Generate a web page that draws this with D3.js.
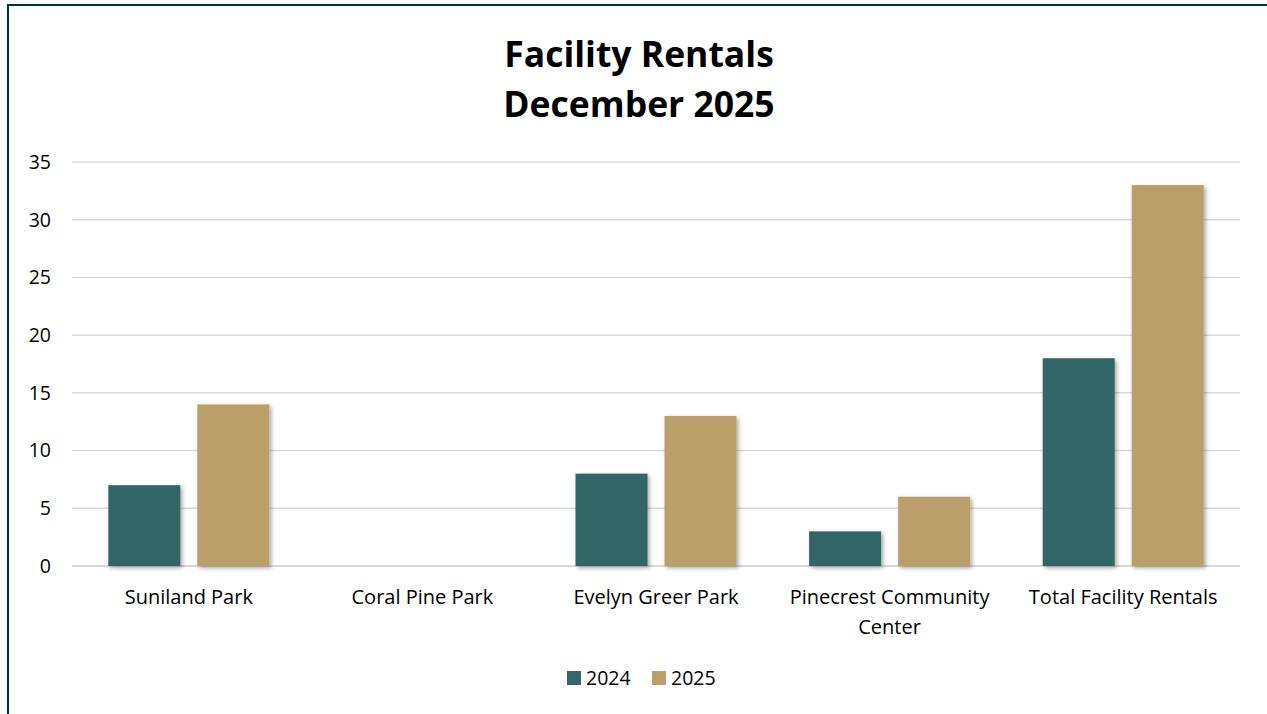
<!DOCTYPE html>
<html>
<head>
<meta charset="utf-8">
<script src="https://cdn.jsdelivr.net/npm/d3@7"></script>
<style>
  html, body { margin: 0; padding: 0; background: #fff; }
  svg { display: block; }
  text { font-family: "Open Sans", Lato, sans-serif; }
</style>
</head>
<body>
<svg id="chart" width="1267" height="714"></svg>
<script>
const categories = [["Suniland Park"], ["Coral Pine Park"], ["Evelyn Greer Park"], ["Pinecrest Community", "Center"], ["Total Facility Rentals"]];
const seriesNames = ["2024", "2025"];
const values2024 = [7, 0, 8, 3, 18];
const values2025 = [14, 0, 13, 6, 33];
const yTicks = [0, 5, 10, 15, 20, 25, 30, 35];
const colors = ["#336666", "#BB9F69"];
const titleLines = ["Facility Rentals", "December 2025"];

(function () {
const svg = d3.select("#chart");
const W = 1267, H = 714;

// border
svg.append("path")
  .attr("d", `M8,${H} L8,5 L${W},5`)
  .attr("fill", "none").attr("stroke", "#003333").attr("stroke-width", 2);

const defs = svg.append("defs");
const f = defs.append("filter").attr("id", "shadow").attr("x", "-20%").attr("y", "-20%").attr("width", "140%").attr("height", "140%");
f.append("feDropShadow").attr("dx", 2).attr("dy", 2).attr("stdDeviation", 2).attr("flood-color", "#000").attr("flood-opacity", 0.35);

const pLeft = 72, pRight = 1240, pTop = 162, pBottom = 566;
const fs = 19.5;

const x0 = d3.scaleBand().domain(d3.range(categories.length)).range([pLeft, pRight]).paddingInner(0).paddingOuter(0);
const x1 = d3.scaleBand().domain(seriesNames).range([0, x0.bandwidth()]).paddingInner(0.191).paddingOuter(0.408);
const y = d3.scaleLinear().domain([0, 35]).range([pBottom, pTop]);

// gridlines
svg.append("g").selectAll("line").data(yTicks).join("line")
  .attr("x1", pLeft).attr("x2", pRight)
  .attr("y1", d => y(d)).attr("y2", d => y(d))
  .attr("stroke", "#d9d9d9").attr("stroke-width", d => d === 0 ? 2 : 1.5);

// y tick labels
svg.append("g").selectAll("text").data(yTicks).join("text")
  .attr("x", 51).attr("y", d => y(d)).attr("dy", "0.35em")
  .attr("text-anchor", "end").attr("font-size", fs).attr("fill", "#000")
  .text(d => d);

// bars
const data = categories.map((c, i) => ({ i, vals: [values2024[i], values2025[i]] }));
const groups = svg.append("g").selectAll("g").data(data).join("g")
  .attr("transform", d => `translate(${x0(d.i)},0)`);
groups.selectAll("rect").data(d => d.vals.map((v, k) => ({ v, k })).filter(e => e.v > 0)).join("rect")
  .attr("x", e => x1(seriesNames[e.k]))
  .attr("width", x1.bandwidth())
  .attr("y", e => y(e.v))
  .attr("height", e => y(0) - y(e.v))
  .attr("fill", e => colors[e.k])
  .attr("filter", "url(#shadow)");

// category labels
const cl = svg.append("g").selectAll("text").data(categories).join("text")
  .attr("x", (d, i) => x0(i) + x0.bandwidth() / 2)
  .attr("y", 604)
  .attr("text-anchor", "middle").attr("font-size", 20).attr("fill", "#000");
cl.selectAll("tspan").data(d => d).join("tspan")
  .attr("x", function () { return d3.select(this.parentNode).attr("x"); })
  .attr("dy", (d, k) => k === 0 ? 0 : 30)
  .text(d => d);

// title
svg.append("g").selectAll("text").data(titleLines).join("text")
  .attr("x", 639).attr("y", (d, i) => 67 + i * 50)
  .attr("text-anchor", "middle").attr("font-size", 35.5).attr("font-weight", "bold").attr("fill", "#000")
  .text(d => d);

// legend
const legendX = [567, 652];
const lg = svg.append("g").selectAll("g").data(seriesNames).join("g")
  .attr("transform", (d, i) => `translate(${legendX[i]},671)`);
lg.append("rect").attr("width", 14).attr("height", 14).attr("fill", (d, i) => colors[i]);
lg.append("text").attr("x", 19).attr("y", 7).attr("dy", "0.35em").attr("font-size", fs).attr("fill", "#000").text(d => d);
})();
</script>
</body>
</html>
